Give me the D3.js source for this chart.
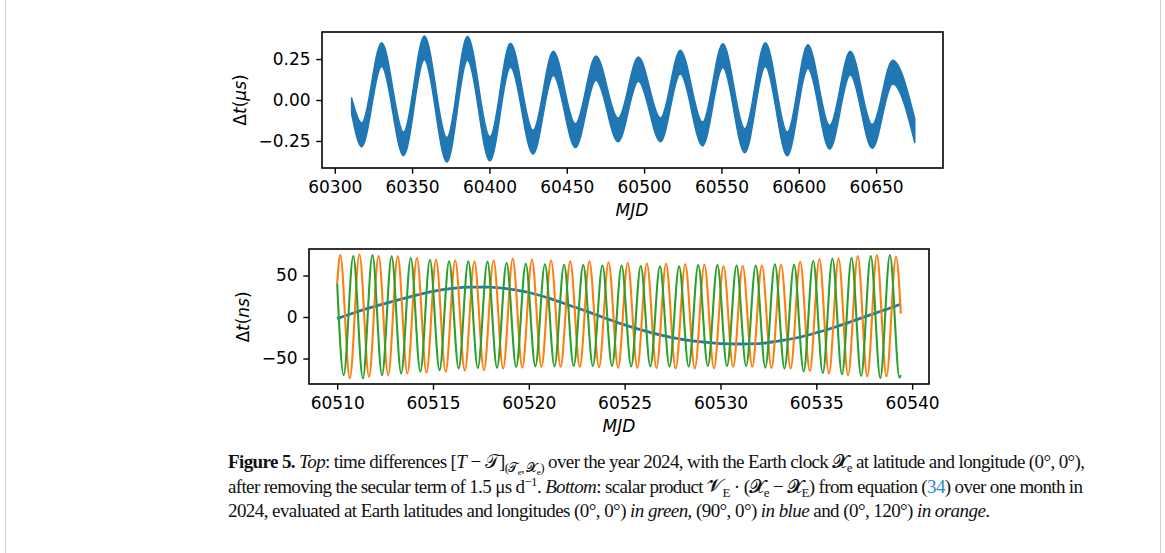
<!DOCTYPE html>
<html>
<head>
<meta charset="utf-8">
<script src="https://cdn.jsdelivr.net/npm/d3@7"></script>
<style>
  body { margin: 0; background: #fff; }
  .tick text { font-family: "DejaVu Sans", sans-serif; font-size: 17px; fill: #000; }
</style>
</head>
<body>
<div id="chart"></div>
<script>
// ---- top panel: band of the daily oscillation, envelope at the monthly extrema
const topMjd = [60310.9, 60317.4, 60330.3, 60344.5, 60357.9, 60372.5, 60385.8, 60400.3, 60413.6, 60428.2,
  60441.3, 60455.6, 60468.9, 60483.2, 60496.3, 60510.6, 60523.4, 60537.8, 60550.9, 60565.1,
  60578.4, 60592.6, 60605.9, 60620.0, 60633.3, 60647.5, 60660.7, 60675.0];
const topUpper = [0.012, -0.14, 0.35, -0.195, 0.39, -0.23, 0.388, -0.225, 0.347, -0.185,
  0.297, -0.145, 0.268, -0.11, 0.262, -0.11, 0.303, -0.135, 0.343, -0.175,
  0.35, -0.195, 0.337, -0.155, 0.297, -0.15, 0.243, -0.115];
const topLower = [-0.085, -0.285, 0.205, -0.34, 0.245, -0.378, 0.243, -0.372, 0.2, -0.33,
  0.15, -0.29, 0.12, -0.255, 0.115, -0.255, 0.158, -0.28, 0.198, -0.322,
  0.205, -0.34, 0.192, -0.30, 0.152, -0.295, 0.098, -0.26];
const topXTicks = [60300, 60350, 60400, 60450, 60500, 60550, 60600, 60650];
const topYTicks = [-0.25, 0, 0.25];

// ---- bottom panel
const botXTicks = [60510, 60515, 60520, 60525, 60530, 60535, 60540];
const botYTicks = [-50, 0, 50];

// (90°, 0°) blue
const blueMjd = [60510, 60511, 60512, 60513, 60514, 60515, 60516, 60517, 60518, 60519, 60520,
  60521, 60522, 60523, 60524, 60525, 60526, 60527, 60528, 60529, 60530,
  60531, 60532, 60533, 60534, 60535, 60536, 60537, 60538, 60539, 60539.41];
const blueNs = [-2, 6, 13, 19.5, 25.5, 31, 34.5, 36, 36, 33.5, 29.5,
  23, 15, 7, -1.5, -9.5, -16.5, -22.5, -27, -30, -32,
  -32.5, -32, -29, -25, -19, -12, -4, 4, 12, 15.5];

// (0°, 120°) orange : start, then peaks / troughs
const orangeMjd = [60510, 60510.16, 60510.66, 60511.16, 60511.66, 60512.16, 60512.66, 60513.16, 60513.66,
  60514.16, 60514.66, 60515.16, 60515.66, 60516.16, 60516.66, 60517.16, 60517.66, 60518.16, 60518.66,
  60519.16, 60519.66, 60520.16, 60520.66, 60521.16, 60521.66, 60522.16, 60522.66, 60523.16, 60523.66,
  60524.16, 60524.66, 60525.16, 60525.66, 60526.16, 60526.66, 60527.16, 60527.66, 60528.16, 60528.66,
  60529.16, 60529.66, 60530.16, 60530.66, 60531.16, 60531.66, 60532.16, 60532.66, 60533.16, 60533.66,
  60534.16, 60534.66, 60535.16, 60535.66, 60536.16, 60536.66, 60537.16, 60537.66, 60538.16, 60538.66,
  60539.16, 60539.41];
const orangeNs = [40, 74.5, -74, 75.5, -72, 73.5, -70, 73, -68,
  71, -67, 69, -66, 68, -64.5, 67, -64, 68, -62,
  70, -61, 69, -60, 68, -60, 67, -60, 67, -60.5,
  66, -61, 65, -61, 64.5, -61.5, 64, -62, 63.5, -62,
  63, -62, 61, -60, 61.5, -60, 62, -61.5, 63, -62,
  66.5, -65, 69.5, -68, 70.5, -70, 73.5, -71.5, 74.5, -71.5,
  72.5, 4];

// (0°, 0°) green : start, then troughs / peaks
const greenMjd = [60510, 60510.34, 60510.84, 60511.34, 60511.84, 60512.34, 60512.84, 60513.34, 60513.84,
  60514.34, 60514.84, 60515.34, 60515.84, 60516.34, 60516.84, 60517.34, 60517.84, 60518.34, 60518.84,
  60519.34, 60519.84, 60520.34, 60520.84, 60521.34, 60521.84, 60522.34, 60522.84, 60523.34, 60523.84,
  60524.34, 60524.84, 60525.34, 60525.84, 60526.34, 60526.84, 60527.34, 60527.84, 60528.34, 60528.84,
  60529.34, 60529.84, 60530.34, 60530.84, 60531.34, 60531.84, 60532.34, 60532.84, 60533.34, 60533.84,
  60534.34, 60534.84, 60535.34, 60535.84, 60536.34, 60536.84, 60537.34, 60537.84, 60538.34, 60538.84,
  60539.34, 60539.41];
const greenNs = [40, -70, 73.5, -74, 74.5, -70, 73, -68, 71,
  -66, 69, -64, 67, -62, 67, -61.5, 66.5, -61, 65,
  -60, 64, -59.5, 63.5, -59.5, 63, -59, 62.5, -59, 62,
  -59, 62, -59.5, 61.5, -59.5, 61, -59.8, 61, -59.8, 62.5,
  -59, 62.5, -59, 62, -59, 62, -61, 63.5, -62, 63,
  -65.5, 67.5, -67.5, 70.5, -69, 71, -71, 73.5, -73.5, 74.5,
  -73, -70];

const W = 1165, H = 553;
const svg = d3.select("#chart").append("svg")
  .attr("width", W).attr("height", H)
  .style("display", "block");

svg.append("rect").attr("width", W).attr("height", H).attr("fill", "#fff");
// frame of the figure box
svg.append("rect")
  .attr("x", 5.5).attr("y", -2).attr("width", 1155).attr("height", H + 4)
  .attr("fill", "none").attr("stroke", "#d0d0d0").attr("stroke-width", 1);

const blue = "#1f77b4", orange = "#ff7f0e", green = "#2ca02c";

function frame(g, x, y) {
  const [x0, x1] = x.range(), [y0, y1] = y.range();
  g.append("rect")
    .attr("x", x0).attr("y", y1).attr("width", x1 - x0).attr("height", y0 - y1)
    .attr("fill", "none").attr("stroke", "#000").attr("stroke-width", 1.6);
}

function axes(g, x, y, xTicks, yTicks, xFmt, yFmt) {
  const ax = g.append("g")
    .attr("transform", `translate(0,${y.range()[0]})`)
    .call(d3.axisBottom(x).tickValues(xTicks).tickFormat(xFmt).tickSize(5.7).tickPadding(7));
  const ay = g.append("g")
    .attr("transform", `translate(${x.range()[0]},0)`)
    .call(d3.axisLeft(y).tickValues(yTicks).tickFormat(yFmt).tickSize(5.7).tickPadding(5.7));
  [ax, ay].forEach(a => {
    a.select(".domain").remove();
    a.selectAll(".tick line").attr("stroke", "#000").attr("stroke-width", 1.4);
  });
}

function mathLabel(g, parts, x, y, rotate) {
  const t = g.append("text")
    .attr("transform", `translate(${x},${y})` + (rotate ? " rotate(-90)" : ""))
    .attr("text-anchor", "middle")
    .attr("font-family", "DejaVu Sans")
    .attr("font-size", 17);
  parts.forEach(([s, it]) => t.append("tspan").attr("font-style", it ? "italic" : "normal").text(s));
}

// ---------------- top panel
const xT = d3.scaleLinear().domain([60291.75, 60693.25]).range([322, 943]);
const yT = d3.scaleLinear().domain([-0.415, 0.415]).range([168, 32]);
const gT = svg.append("g");

const band = topMjd.map((m, i) => ({ m, hi: topUpper[i], lo: topLower[i] }));
gT.append("path")
  .datum(band)
  .attr("fill", blue)
  .attr("stroke", blue)
  .attr("stroke-width", 1.5)
  .attr("stroke-linejoin", "round")
  .attr("d", d3.area()
    .x(d => xT(d.m)).y0(d => yT(d.lo)).y1(d => yT(d.hi))
    .curve(d3.curveMonotoneX));

frame(gT, xT, yT);
axes(gT, xT, yT, topXTicks, topYTicks, d3.format("d"), d3.format(".2f"));
mathLabel(gT, [["Δ", 0], ["t", 1], ["(", 0], ["μ", 1], ["s", 1], [")", 0]], 246, 100, true);
mathLabel(gT, [["MJD", 1]], 632, 216, false);

// ---------------- bottom panel
const xB = d3.scaleLinear().domain([60508.53, 60540.88]).range([309, 929]);
const yB = d3.scaleLinear().domain([-80.7, 81.9]).range([384, 249]);
const gB = svg.append("g");

const line = d3.line().x(d => xB(d[0])).y(d => yB(d[1])).curve(d3.curveMonotoneX);
const series = [
  [blueMjd, blueNs, blue, 2.8],
  [orangeMjd, orangeNs, orange, 2.1],
  [greenMjd, greenNs, green, 2.1]
];
series.forEach(([ms, vs, c, w]) => {
  gB.append("path")
    .datum(ms.map((m, i) => [m, vs[i]]))
    .attr("fill", "none")
    .attr("stroke", c)
    .attr("stroke-width", w)
    .attr("stroke-linejoin", "round")
    .attr("d", line);
});

frame(gB, xB, yB);
axes(gB, xB, yB, botXTicks, botYTicks, d3.format("d"), d3.format("d"));
mathLabel(gB, [["Δ", 0], ["t", 1], ["(", 0], ["n", 1], ["s", 1], [")", 0]], 249, 317, true);
mathLabel(gB, [["MJD", 1]], 619, 432, false);

// ---------------- caption
const capLines = [
  { y: 468, len: 857, parts: [
    ["Figure 5.", "b"], [" ", ""], ["Top", "i"], [": time differences [", ""], ["T", "i"], [" − ", ""], ["𝒯", ""], ["]", ""],
    ["(", "sub"], ["𝒯", "sub"], ["e", "subsub"], [", ", "sub"], ["𝓧", "sub"], ["e", "subsub"], [")", "sub"],
    [" over the year 2024, with the Earth clock ", ""], ["𝓧", ""], ["e", "sub"],
    [" at latitude and longitude (0°, 0°),", ""]
  ]},
  { y: 493, len: 855, parts: [
    ["after removing the secular term of 1.5 μs d", ""], ["−1", "sup"], [". ", ""], ["Bottom", "i"],
    [": scalar product ", ""], ["𝓥", ""], ["E", "sub"], [" · (", ""], ["𝓧", ""], ["e", "sub"], [" − ", ""],
    ["𝓧", ""], ["E", "sub"], [") from equation (", ""], ["34", "link"], [") over one month in", ""]
  ]},
  { y: 517, len: 762, parts: [
    ["2024, evaluated at Earth latitudes and longitudes (0°, 0°) ", ""], ["in green", "i"],
    [", (90°, 0°) ", ""], ["in blue", "i"], [" and (0°, 120°) ", ""], ["in orange", "i"], [".", ""]
  ]}
];

capLines.forEach(l => {
  const t = svg.append("text")
    .attr("x", 228).attr("y", l.y)
    .attr("font-family", "Liberation Serif, serif")
    .attr("font-size", 19)
    .attr("fill", "#111")
    .attr("textLength", l.len)
    .attr("lengthAdjust", "spacing");
  let shift = 0;
  l.parts.forEach(([s, k]) => {
    const sp = t.append("tspan").text(s);
    let target = 0, size = 19;
    if (k === "b") sp.attr("font-weight", "bold");
    if (k === "i") sp.attr("font-style", "italic");
    if (k === "link") sp.attr("fill", "#2b8cc4");
    if (k === "sub") { target = 4; size = 13; }
    if (k === "subsub") { target = 7; size = 9; }
    if (k === "sup") { target = -7; size = 13; }
    sp.attr("font-size", size).attr("dy", target - shift);
    shift = target;
  });
});
</script>
</body>
</html>
